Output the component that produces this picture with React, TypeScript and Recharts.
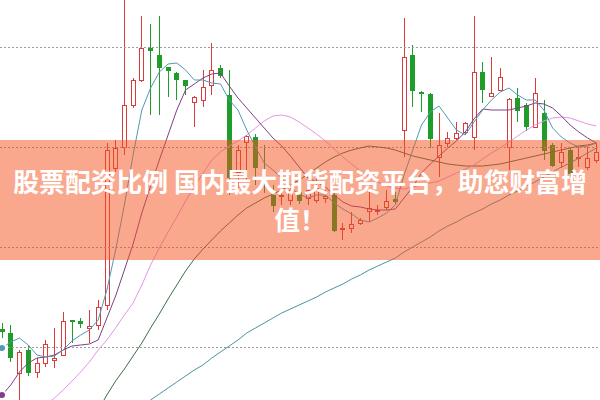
import { ComposedChart, Bar, Line, XAxis, YAxis, ReferenceLine } from 'recharts'

const N = null

// candle prices, one entry per trading day (left to right)
const open = [
  6.71, 6.67, 6.27, 6.50, 6.28, 6.37, 6.40, 6.45, 6.80, 6.79,
  6.72, 6.75, 6.95, 8.32, 8.53, 8.95, 9.20, 9.52, 9.45, 9.33,
  9.27, 9.20, 8.98, 9.00, 9.15, 9.32, 9.05, 8.28, 8.58, 8.63,
  8.22, 8.05, 8.04, 8.00, 8.08, 8.02, 8.00, 8.02, 8.05, 7.71,
  7.72, 7.77, 7.89, 7.89, 7.93, 8.01, 8.70, 9.45, 9.08, 9.06,
  8.43, 8.57, 8.62, 8.68, 8.63, 9.28, 9.04, 9.10, 8.53, 9.02,
  8.95, 8.73, 8.87, 8.55, 8.38, 8.50, 8.42, 8.33, 8.40,
]
const close = [
  6.69, 6.43, 6.48, 6.28, 6.37, 6.56, 6.42, 6.79, 6.79, 6.77,
  6.74, 6.93, 8.50, 8.52, 8.95, 9.20, 9.52, 9.50, 9.33, 9.30,
  9.21, 9.15, 9.03, 9.13, 9.30, 9.25, 8.23, 8.50, 8.64, 8.33,
  8.18, 7.95, 8.05, 8.10, 8.00, 8.10, 8.12, 8.04, 7.70, 7.72,
  7.76, 7.80, 7.92, 7.90, 7.99, 7.99, 9.43, 9.10, 9.07, 8.62,
  8.55, 8.62, 8.67, 8.77, 9.28, 9.11, 9.07, 9.23, 9.01, 8.90,
  8.74, 9.07, 8.50, 8.35, 8.48, 8.27, 8.43, 8.42, 8.48,
]
const high = [
  6.77, 6.75, 6.50, 6.55, 6.42, 6.60, 6.72, 6.88, 6.80, 6.82,
  6.90, 7.00, 8.57, 8.60, 10.00, 9.22, 9.84, 9.76, 9.84, 9.33,
  9.28, 9.20, 9.04, 9.30, 9.57, 9.35, 9.30, 8.55, 8.65, 8.66,
  8.55, 8.15, 8.14, 8.15, 8.14, 8.13, 8.23, 8.10, 8.07, 7.77,
  7.88, 7.82, 8.08, 7.95, 8.10, 8.08, 9.82, 9.55, 9.09, 9.07,
  8.87, 8.68, 8.78, 8.78, 9.84, 9.38, 9.43, 9.32, 9.02, 9.12,
  8.97, 9.22, 9.00, 8.57, 8.57, 8.52, 8.53, 8.53, 8.57,
]
const low = [
  6.62, 6.38, 5.98, 6.24, 6.22, 6.33, 6.32, 6.44, 6.57, 6.72,
  6.57, 6.70, 6.90, 8.28, 8.45, 8.92, 9.18, 8.85, 8.85, 9.03,
  9.00, 9.05, 8.73, 8.93, 9.05, 9.22, 8.05, 8.12, 8.20, 8.15,
  8.07, 7.88, 7.95, 7.95, 7.96, 7.95, 7.97, 7.97, 7.68, 7.60,
  7.67, 7.75, 7.78, 7.85, 7.90, 7.95, 8.43, 8.93, 8.88, 8.52,
  8.23, 8.53, 8.60, 8.66, 8.50, 8.97, 9.03, 9.09, 8.30, 8.78,
  8.69, 8.72, 8.40, 8.33, 8.32, 8.23, 8.33, 8.30, 8.37,
]

// moving averages
const ma5 = [
  6.52, 6.58, 6.62, 6.55, 6.45, 6.43, 6.44, 6.50, 6.59, 6.65,
  6.70, 6.80, 7.10, 7.50, 7.95, 8.45, 8.90, 9.12, 9.28, 9.36,
  9.37, 9.30, 9.20, 9.20, 9.17, 9.16, 9.00, 8.90, 8.70, 8.53,
  8.37, 8.30, 8.22, 8.12, 8.06, 8.02, 8.05, 8.05, 7.97, 7.91,
  7.86, 7.80, 7.78, 7.82, 7.87, 7.95, 8.25, 8.50, 8.75, 8.88,
  8.94, 8.82, 8.70, 8.65, 8.78, 8.90, 9.00, 9.08, 9.12, 9.05,
  9.00, 9.00, 8.90, 8.72, 8.63, 8.57, 8.53, 8.54, 8.57,
]
const ma10 = [
  6.05, 6.15, 6.28, 6.37, 6.42, 6.43, 6.45, 6.50, 6.54, 6.55,
  6.56, 6.60, 6.82, 7.04, 7.30, 7.56, 7.87, 8.14, 8.40, 8.65,
  8.90, 9.10, 9.16, 9.22, 9.26, 9.27, 9.14, 9.02, 8.92, 8.82,
  8.72, 8.62, 8.54, 8.44, 8.33, 8.22, 8.18, 8.13, 8.05, 7.98,
  7.94, 7.93, 7.91, 7.90, 7.90, 7.91, 8.02, 8.13, 8.27, 8.36,
  8.44, 8.52, 8.59, 8.68, 8.81, 8.91, 8.90, 8.90, 8.90, 8.92,
  8.94, 8.97, 8.96, 8.92, 8.84, 8.75, 8.68, 8.62, 8.57,
]
const ma20 = [
  5.50, 5.60, 5.70, 5.80, 5.88, 5.95, 6.02, 6.10, 6.19, 6.28,
  6.38, 6.50, 6.60, 6.72, 6.85, 6.97, 7.15, 7.35, 7.52, 7.68,
  7.83, 7.99, 8.13, 8.27, 8.40, 8.48, 8.54, 8.59, 8.65, 8.72,
  8.79, 8.84, 8.85, 8.83, 8.78, 8.72, 8.66, 8.59, 8.51, 8.43,
  8.36, 8.29, 8.23, 8.18, 8.14, 8.12, 8.11, 8.13, 8.15, 8.17,
  8.19, 8.23, 8.27, 8.31, 8.35, 8.41, 8.47, 8.52, 8.58, 8.64,
  8.70, 8.75, 8.79, 8.82, 8.83, 8.82, 8.79, 8.76, 8.74,
]
const ma30 = [
  N, N, N, N, N, N, N, N, N, 5.60,
  5.75, 5.90, 6.05, 6.19, 6.31, 6.44, 6.57, 6.72, 6.86, 7.01,
  7.15, 7.29, 7.41, 7.51, 7.60, 7.69, 7.77, 7.85, 7.92, 7.97,
  8.02, 8.06, 8.10, 8.15, 8.20, 8.26, 8.32, 8.38, 8.43, 8.47,
  8.50, 8.52, 8.54, 8.53, 8.52, 8.50, 8.47, 8.44, 8.42, 8.40,
  8.38, 8.36, 8.35, 8.34, 8.34, 8.34, 8.35, 8.36, 8.38, 8.40,
  8.42, 8.44, 8.46, 8.48, 8.50, 8.52, 8.54, 8.55, 8.57,
]
const ma60 = [
  N, N, N, N, N, N, N, N, N, N,
  N, N, N, N, N, 5.88, 5.94, 6.00, 6.06, 6.12,
  6.18, 6.24, 6.30, 6.35, 6.42, 6.48, 6.54, 6.60, 6.67, 6.72,
  6.77, 6.82, 6.87, 6.91, 6.95, 6.99, 7.03, 7.08, 7.12, 7.16,
  7.21, 7.25, 7.30, 7.34, 7.38, 7.42, 7.48, 7.53, 7.58, 7.63,
  7.69, 7.74, 7.78, 7.83, 7.87, 7.91, 7.96, 8.00, 8.05, 8.09,
  8.14, 8.18, 8.23, 8.28, 8.33, 8.37, 8.42, 8.47, 8.52,
]

// dotted price levels
const gridLevels = [9.525, 8.525, 7.525, 6.525]

const bannerLine1 = '股票配资比例 国内最大期货配资平台，助您财富增'
const bannerLine2 = '值！'

const C = {
  up: '#dc3b3d',
  down: '#1f9d2b',
  grid: '#9a9a9a',
  ma5: '#4f9bb3',
  ma10: '#7f3f86',
  ma20: '#e396e4',
  ma30: '#3d6e47',
  ma60: '#4a94a0',
  banner: 'rgba(244, 82, 30, 0.5)',
}

const rows = open.map((o, i) => ({
  i,
  open: o,
  close: close[i],
  high: high[i],
  low: low[i],
  range: [low[i], high[i]],
  ma5: ma5[i],
  ma10: ma10[i],
  ma20: ma20[i],
  ma30: ma30[i],
  ma60: ma60[i],
}))

const Candle = (props: any) => {
  const { x, y, width, height, payload } = props
  if (x == null || y == null || !payload) return null
  const { open: o, close: c, high: h, low: l } = payload
  const k = h - l > 0 ? height / (h - l) : 0
  const yOf = (v: number) => y + (h - v) * k
  const up = c >= o
  const color = up ? C.up : C.down
  const cx = Math.round(x + width / 2)
  const top = Math.round(yOf(Math.max(o, c)))
  const bot = Math.round(yOf(Math.min(o, c)))
  return (
    <g>
      <line x1={cx + 0.5} x2={cx + 0.5} y1={y} y2={y + height} stroke={color} strokeWidth={1} />
      {bot - top < 1 ? (
        <line x1={cx - 2} x2={cx + 3} y1={top + 0.5} y2={top + 0.5} stroke={color} strokeWidth={1} />
      ) : (
        <rect
          x={cx - 1.5}
          y={top + 0.5}
          width={4}
          height={bot - top}
          fill={up ? '#ffffff' : color}
          stroke={color}
          strokeWidth={1}
        />
      )}
    </g>
  )
}

export default function App() {
  return (
    <div style={{ position: 'absolute', left: 0, top: 0, width: 600, height: 400, background: '#fff', overflow: 'hidden' }}>
      <ComposedChart width={600} height={400} data={rows} margin={{ top: 0, right: 0, bottom: 0, left: 0 }}>
        <XAxis type="number" dataKey="i" domain={[-0.229, 68.42]} hide allowDataOverflow />
        <YAxis type="number" domain={[6, 10]} hide allowDataOverflow />
        {gridLevels.map(v => (
          <ReferenceLine key={v} y={v} stroke={C.grid} strokeDasharray="2 2" strokeWidth={1} />
        ))}
        <Bar dataKey="range" barSize={6} shape={<Candle />} isAnimationActive={false} />
        <Line type="linear" dataKey="ma60" stroke={C.ma60} strokeWidth={1} dot={false} isAnimationActive={false} />
        <Line type="linear" dataKey="ma30" stroke={C.ma30} strokeWidth={1} dot={false} isAnimationActive={false} />
        <Line type="linear" dataKey="ma20" stroke={C.ma20} strokeWidth={1} dot={false} isAnimationActive={false} />
        <Line type="linear" dataKey="ma10" stroke={C.ma10} strokeWidth={1} dot={false} isAnimationActive={false} />
        <Line type="linear" dataKey="ma5" stroke={C.ma5} strokeWidth={1} dot={false} isAnimationActive={false} />
      </ComposedChart>
      <div style={{
        position: 'absolute',
        left: 0,
        top: 140,
        width: 600,
        height: 120,
        background: C.banner,
        display: 'flex',
        flexDirection: 'column',
        alignItems: 'center',
        justifyContent: 'center',
        color: '#fff',
        fontFamily: '"Noto Sans CJK SC", sans-serif',
        fontWeight: 700,
        fontSize: 25.8,
        lineHeight: '38px',
        whiteSpace: 'nowrap',
      }}>
        <div>{bannerLine1}</div>
        <div>{bannerLine2}</div>
      </div>
    </div>
  )
}
